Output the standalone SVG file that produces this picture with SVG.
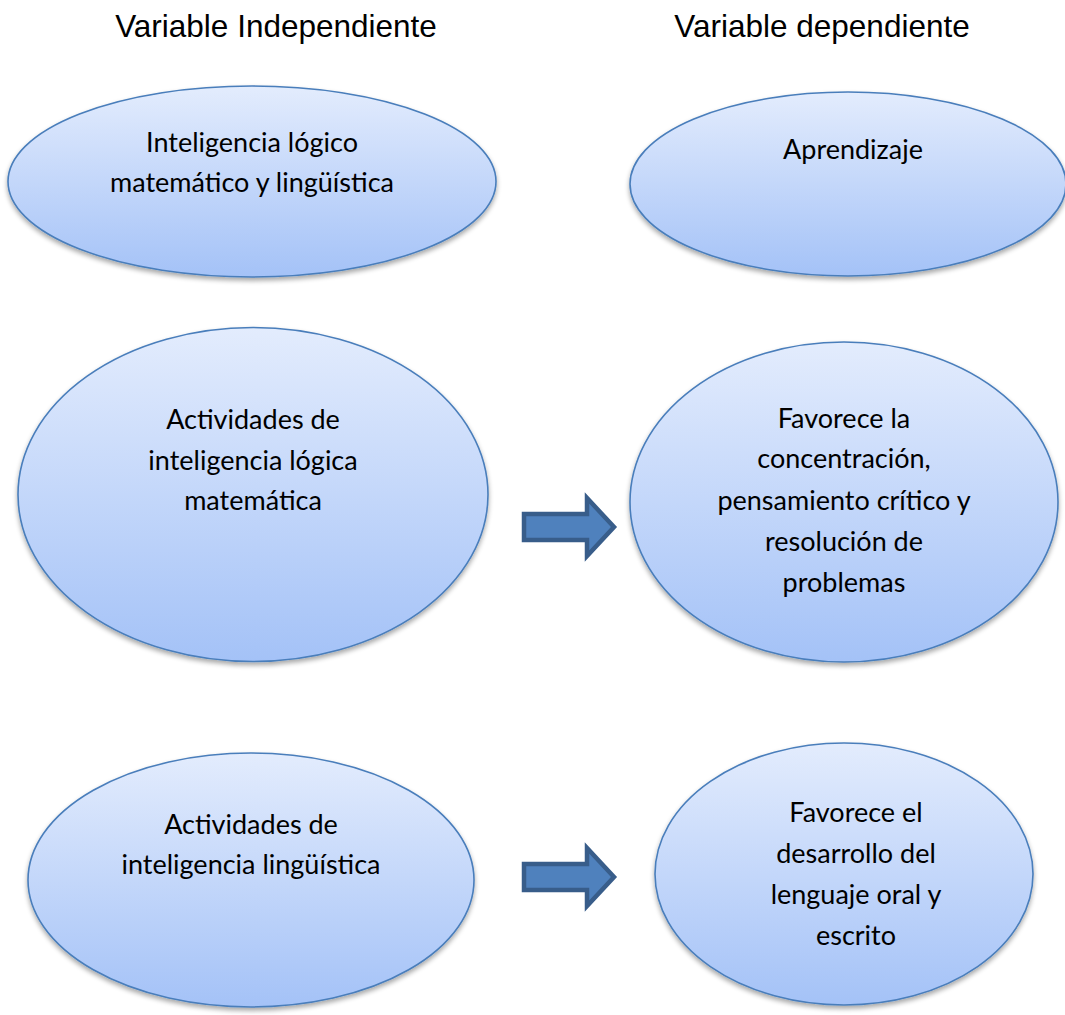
<svg xmlns="http://www.w3.org/2000/svg" width="1065" height="1015" viewBox="0 0 1065 1015">
<style>
.node ellipse{fill:url(#g);stroke:#4a7ebb;stroke-width:1.6;filter:url(#sh)}
.node text{font-family:Lato,"Open Sans",sans-serif;font-size:27px;fill:#000;text-anchor:middle}
.title{font-family:"Liberation Sans",Arial,sans-serif;font-size:31.5px;fill:#000;text-anchor:middle}
.arrow{fill:#4f81bd;stroke:#385d8a;stroke-width:4.5;stroke-linejoin:miter}
</style>
<defs>
<linearGradient id="g" x1="0" y1="0" x2="0" y2="1">
<stop offset="0" stop-color="#e3ecfd"/>
<stop offset="1" stop-color="#a4c2f7"/>
</linearGradient>
<filter id="sh" x="-10%" y="-10%" width="120%" height="125%">
<feGaussianBlur in="SourceAlpha" stdDeviation="2.5"/>
<feOffset dx="0" dy="3" result="b"/>
<feComponentTransfer><feFuncA type="linear" slope="0.35"/></feComponentTransfer>
<feMerge><feMergeNode/><feMergeNode in="SourceGraphic"/></feMerge>
</filter>
</defs>
<rect width="1065" height="1015" fill="#fff"/>
<text class="title" x="276" y="37">Variable Independiente</text>
<text class="title" x="822" y="37">Variable dependiente</text>

<g id="n1" class="node">
<ellipse cx="252" cy="181.5" rx="244" ry="95.5"/>
<text x="252" y="152">Inteligencia lógico</text>
<text x="252" y="192">matemático y lingüística</text>
</g>
<g id="n2" class="node">
<ellipse cx="848" cy="184" rx="218" ry="92"/>
<text x="853" y="159">Aprendizaje</text>
</g>
<g id="n3" class="node">
<ellipse cx="253" cy="494.5" rx="235" ry="167"/>
<text x="253" y="429">Actividades de</text>
<text x="253" y="470">inteligencia lógica</text>
<text x="253" y="510">matemática</text>
</g>
<g id="n4" class="node">
<ellipse cx="844" cy="502" rx="214" ry="160"/>
<text x="844" y="428">Favorece la</text>
<text x="844" y="468">concentración,</text>
<text x="844" y="510">pensamiento crítico y</text>
<text x="844" y="551">resolución de</text>
<text x="844" y="592">problemas</text>
</g>
<g id="n5" class="node">
<ellipse cx="251" cy="880" rx="223" ry="127"/>
<text x="251" y="834">Actividades de</text>
<text x="251" y="874">inteligencia lingüística</text>
</g>
<g id="n6" class="node">
<ellipse cx="844" cy="874" rx="189" ry="131"/>
<text x="856" y="822">Favorece el</text>
<text x="856" y="863">desarrollo del</text>
<text x="856" y="904">lenguaje oral y</text>
<text x="856" y="945">escrito</text>
</g>

<g id="connectors">
<path class="arrow" d="M524,514 H587 V498 L614,527 L587,556 V540 H524 Z"/>
<path class="arrow" d="M524,864 H587 V848 L614,877 L587,906 V890 H524 Z"/>
</g>
</svg>
